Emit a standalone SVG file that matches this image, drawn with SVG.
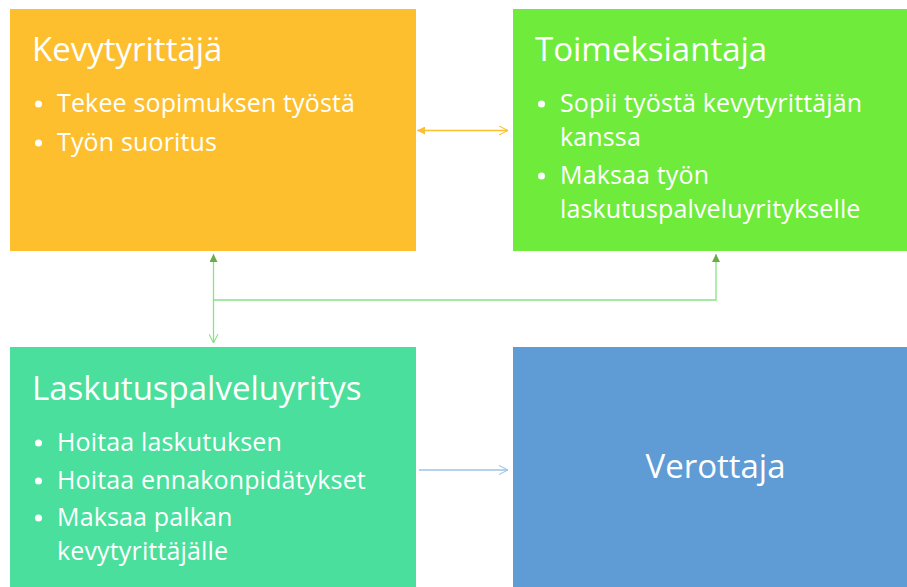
<svg xmlns="http://www.w3.org/2000/svg" width="907" height="587" viewBox="0 0 907 587">
<style>
text{font-family:"Open Sans","Noto Sans","Liberation Sans",sans-serif;fill:#ffffff}
.t{font-size:33px}
.b{font-size:25px;letter-spacing:0.15px}
.dot{fill:#ffffff}
</style>
<defs>
<marker id="fo" viewBox="0 0 10 10" refX="10" refY="5" markerWidth="9" markerHeight="8" markerUnits="userSpaceOnUse" orient="auto-start-reverse"><path d="M0,0 L10,5 L0,10 z" fill="#FBBF2F"/></marker>
<marker id="oo" viewBox="0 0 10 10" refX="10" refY="5" markerWidth="9" markerHeight="10" markerUnits="userSpaceOnUse" orient="auto"><path d="M0,0 L10,5 L0,10" fill="none" stroke="#FBBF2F" stroke-width="1.2"/></marker>
<marker id="fg" viewBox="0 0 10 10" refX="10" refY="5" markerWidth="9" markerHeight="8" markerUnits="userSpaceOnUse" orient="auto-start-reverse"><path d="M0,0 L10,5 L0,10 z" fill="#6AAA4A"/></marker>
<marker id="og" viewBox="0 0 10 10" refX="10" refY="5" markerWidth="9" markerHeight="10" markerUnits="userSpaceOnUse" orient="auto"><path d="M0,0 L10,5 L0,10" fill="none" stroke="#86E386" stroke-width="1.2"/></marker>
<marker id="ob" viewBox="0 0 10 10" refX="10" refY="5" markerWidth="9" markerHeight="10" markerUnits="userSpaceOnUse" orient="auto"><path d="M0,0 L10,5 L0,10" fill="none" stroke="#9DC3E6" stroke-width="1.2"/></marker>
</defs>
<rect width="907" height="587" fill="#ffffff"/>
<g id="kevytyrittaja">
<rect x="10" y="9" width="406" height="242" fill="#FDBF2E"/>
<text class="t" x="32" y="61">Kevytyrittäjä</text>
<circle class="dot" cx="38.5" cy="104" r="3.5"/>
<text class="b" x="57" y="112">Tekee sopimuksen työstä</text>
<circle class="dot" cx="38.5" cy="143" r="3.5"/>
<text class="b" x="57" y="151">Työn suoritus</text>
</g>
<g id="toimeksiantaja">
<rect x="513" y="9" width="394" height="242" fill="#6FEB3C"/>
<text class="t" x="535" y="61">Toimeksiantaja</text>
<circle class="dot" cx="541.5" cy="104" r="3.5"/>
<text class="b" x="560" y="112">Sopii työstä kevytyrittäjän</text>
<text class="b" x="560" y="146">kanssa</text>
<circle class="dot" cx="541.5" cy="176" r="3.5"/>
<text class="b" x="560" y="184">Maksaa työn</text>
<text class="b" x="560" y="218">laskutuspalveluyritykselle</text>
</g>
<g id="laskutuspalveluyritys">
<rect x="10" y="347" width="406" height="240" fill="#4ADF9C"/>
<text class="t" x="32" y="400">Laskutuspalveluyritys</text>
<circle class="dot" cx="38.5" cy="443" r="3.5"/>
<text class="b" x="57" y="451">Hoitaa laskutuksen</text>
<circle class="dot" cx="38.5" cy="481" r="3.5"/>
<text class="b" x="57" y="489">Hoitaa ennakonpidätykset</text>
<circle class="dot" cx="38.5" cy="518" r="3.5"/>
<text class="b" x="57" y="526">Maksaa palkan</text>
<text class="b" x="57" y="560">kevytyrittäjälle</text>
</g>
<g id="verottaja">
<rect x="513" y="347" width="394" height="240" fill="#5F9BD4"/>
<text class="t" x="715.5" y="478" text-anchor="middle">Verottaja</text>
</g>
<g id="connectors" fill="none" stroke-width="1.3">
<path d="M417 130.5 H508" stroke="#FBBF2F" marker-start="url(#fo)" marker-end="url(#oo)"/>
<path d="M213.5 254 V343" stroke="#86E386" marker-start="url(#fg)" marker-end="url(#og)"/>
<path d="M213.5 300 H716 V254" stroke="#86E386" marker-end="url(#fg)"/>
<path d="M419 470 H508" stroke="#9DC3E6" marker-end="url(#ob)"/>
</g>
</svg>
